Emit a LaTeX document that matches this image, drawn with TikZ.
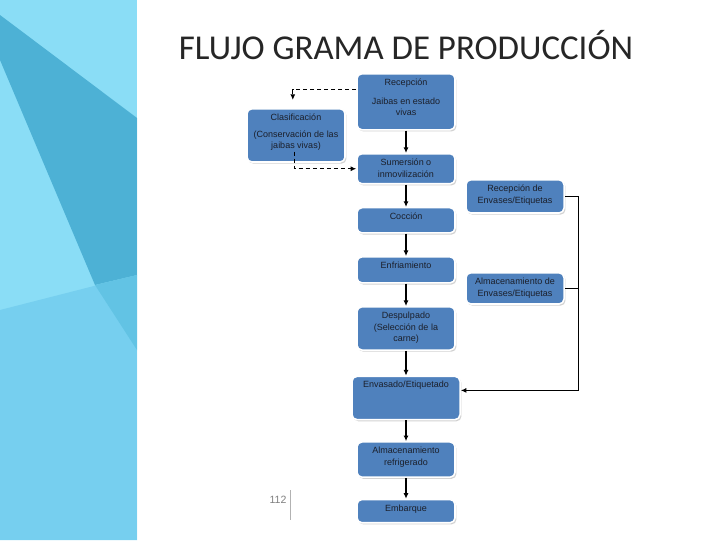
\documentclass[tikz,border=0pt]{standalone}
\usepackage{fontspec}
\setmainfont{Liberation Sans}
\newfontfamily\titlefont{Carlito}
\usepackage{tikz}
\usetikzlibrary{arrows.meta,positioning,shadows}
\definecolor{stagefill}{HTML}{4F81BD}
\definecolor{stagetextc}{HTML}{1B1F2A}
\definecolor{panellight}{HTML}{8ADDF6}
\definecolor{paneldark}{HTML}{4DB1D5}
\definecolor{panelmid}{HTML}{62C3E4}
\definecolor{panellow}{HTML}{76CFEF}
\newcommand{\stagetext}[3]{\parbox[t][#1][t]{#2}{\centering\rule{0pt}{8.2pt}#3}}

\begin{document}
\begin{tikzpicture}[x=0.025cm, y=-0.025cm,
  stage/.style={draw=white, line width=1.1pt, rounded corners=3.5pt, fill=stagefill, inner sep=0pt, anchor=north,
    font=\fontsize{6.4}{8.4}\selectfont, text=stagetextc,
    drop shadow={opacity=0.35, shadow xshift=1pt, shadow yshift=-1.2pt}},
  arr/.style={-{Latex[length=4pt,width=3.6pt]}, line width=0.8pt, black},
  dasharr/.style={arr, dash pattern=on 3pt off 2pt},
  link/.style={line width=0.8pt, black},
  node distance=0.56cm
]
  % background and side panel
  \fill[white] (0,0) rectangle (720,540);
  \fill[panellight] (0,0) rectangle (137,540);
  \fill[panellow] (0,310) -- (137,275) -- (137,540) -- (0,540) -- cycle;
  \fill[paneldark] (0,15) -- (137,118) -- (137,275) -- (95,285) -- (0,60) -- cycle;
  \fill[panelmid] (95,285) -- (137,275) -- (137,350) -- cycle;
  \fill[white, opacity=0.45] (137,0) rectangle (143,540);

  \node[text=black!85] (title) at (406,45) {\titlefont\fontsize{24.8}{29}\selectfont FLUJO GRAMA DE PRODUCCIÓN};

  % main chain
  \node[stage] (rec) at (406,73) {\stagetext{1.4cm}{2.45cm}{Recepción\\[5pt]Jaibas en estado\\vivas}};
  \node[stage, below=of rec] (sum) {\stagetext{0.75cm}{2.45cm}{Sumersión o\\inmovilización}};
  \node[stage, below=of sum] (cocc) {\stagetext{0.63cm}{2.45cm}{Cocción}};
  \node[stage, below=of cocc] (enf) {\stagetext{0.65cm}{2.45cm}{Enfriamiento}};
  \node[stage, below=of enf] (desp) {\stagetext{1.08cm}{2.45cm}{Despulpado\\(Selección de la\\carne)}};
  \node[stage, below=0.62cm of desp] (env) {\stagetext{1.08cm}{2.7cm}{Envasado/Etiquetado}};
  \node[stage, below=0.52cm of env] (alm) {\stagetext{0.88cm}{2.45cm}{Almacenamiento\\refrigerado}};
  \node[stage, below=0.52cm of alm] (emb) {\stagetext{0.58cm}{2.45cm}{Embarque}};

  % side nodes
  \node[stage] (clas) at (296,108) {\stagetext{1.33cm}{2.45cm}{Clasificación\\[3.5pt](Conservación de las\\jaibas vivas)}};
  \node[stage] (recenv) at (515,179) {\stagetext{0.83cm}{2.45cm}{Recepción de\\Envases/Etiquetas}};
  \node[stage] (almenv) at (515,272) {\stagetext{0.78cm}{2.45cm}{Almacenamiento de\\Envases/Etiquetas}};

  \draw[arr] (rec) -- (sum);
  \draw[arr] (sum) -- (cocc);
  \draw[arr] (cocc) -- (enf);
  \draw[arr] (enf) -- (desp);
  \draw[arr] (desp) -- (env);
  \draw[arr] (env) -- (alm);
  \draw[arr] (alm) -- (emb);

  \draw[dasharr] ([yshift=0.3cm]rec.west) -| ([xshift=-0.08cm,yshift=0.2cm]clas.north);
  \draw[dasharr] ([xshift=-0.03cm,yshift=0.28cm]clas.south) |- (sum.west);

  \draw[arr] (recenv.east) -| ([xshift=0.35cm]almenv.east) |- ([yshift=0.19cm]env.east);
  \draw[link] (almenv.east) -- ([xshift=0.35cm]almenv.east);

  % page number
  \node[text=gray, font=\fontsize{7.5}{9}\selectfont] (pnum) at (278,500) {112};
  \draw[gray!60, line width=0.6pt] (290,490) -- (290,520);
\end{tikzpicture}
\end{document}
